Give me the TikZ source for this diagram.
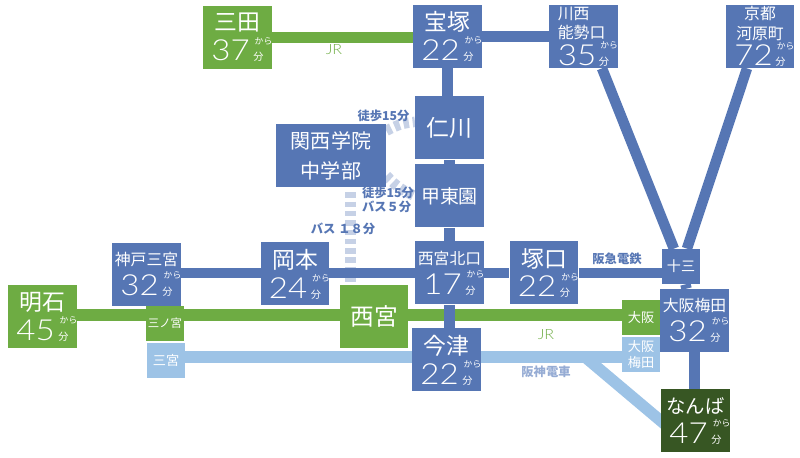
\documentclass[tikz,border=0pt]{standalone}
\usepackage{fontspec}
\usetikzlibrary{backgrounds}
\newfontfamily\jpfont{Noto Sans CJK JP}
\newfontfamily\numfont{Lato}[UprightFont=* Light, FakeStretch=1.14]
\setmainfont{Noto Sans CJK JP}
\definecolor{hkblue}{RGB}{86,118,180}
\definecolor{jrgreen}{RGB}{110,172,67}
\definecolor{hslight}{RGB}{157,195,230}
\definecolor{nmdark}{RGB}{55,86,35}
\definecolor{walkdash}{RGB}{198,209,230}
\definecolor{hslabel}{RGB}{150,172,212}

% Station box text: size of name, name, minutes
\newcommand{\stn}[3]{{\fontsize{#1}{#1}\selectfont #2}\\{\numfont\fontsize{16.5}{17}\selectfont #3}\,\rlap{\hspace{0.8pt}\raisebox{9.5pt}{\fontsize{5}{5}\selectfont から}}{\fontsize{5.8}{6}\selectfont 分}}

\tikzset{
    stationbox/.style={fill=hkblue, text=white, inner sep=0pt, minimum width=1.37cm, minimum height=1.26cm, align=center, font=\fontsize{12}{17}\selectfont},
    jrbox/.style={stationbox, fill=jrgreen},
    smallbox/.style={stationbox, minimum width=0.76cm, minimum height=0.70cm, font=\fontsize{6.5}{9}\selectfont},
    hkline/.style={draw=hkblue, line width=0.21cm},
    jrline/.style={draw=jrgreen, line width=0.23cm},
    hsline/.style={draw=hslight, line width=0.23cm},
    walkline/.style={draw=walkdash, line width=0.21cm, dash pattern=on 0.11cm off 0.076cm},
    linelabel/.style={inner sep=0pt, font=\bfseries\fontsize{7}{8}\selectfont, text=hkblue, align=center},
    jrlabel/.style={inner sep=0pt, text=jrgreen, font=\numfont\fontsize{8}{9}\selectfont},
}

\begin{document}
\begin{tikzpicture}
    \useasboundingbox (0,0) rectangle (16,9.16);

    % Top row
    \node[jrbox] (sanda) at (4.75,8.41) {\stn{13}{三田}{37}};
    \node[stationbox] (takarazuka) at (8.95,8.43) {\stn{13}{宝塚}{22}};
    \node[stationbox, align=left, font=\fontsize{9}{14}\selectfont] (kawanishi) at (11.67,8.43) {川西\\[-3pt]\stn{9}{能勢口}{35}};
    \node[stationbox, font=\fontsize{9}{14}\selectfont] (kawaramachi) at (15.20,8.43) {京都\\[-3pt]\stn{9}{河原町}{72}};

    % Imazu line stations
    \node[stationbox, font=\fontsize{13}{17}\selectfont] (nigawa) at (8.99,6.60) {仁川};
    \node[stationbox, minimum width=2.2cm, font=\fontsize{11.4}{17}\selectfont] (kgakuin) at (6.62,6.05) {関西学院\\中学部};
    \node[stationbox, font=\fontsize{10.8}{17}\selectfont] (kotoen) at (8.99,5.24) {甲東園};

    % Kobe line row
    \node[stationbox] (kobe) at (2.93,3.67) {\stn{9}{神戸三宮}{32}};
    \node[stationbox] (okamoto) at (5.90,3.68) {\stn{13}{岡本}{24}};
    \node[stationbox] (kitaguchi) at (8.99,3.70) {\stn{9}{西宮北口}{17}};
    \node[stationbox] (tsukaguchi) at (10.88,3.70) {\stn{13}{塚口}{22}};
    \node[smallbox, font=\fontsize{8}{9}\selectfont] (juso) at (13.62,3.83) {十三};

    % JR row
    \node[jrbox] (akashi) at (0.85,2.83) {\stn{13}{明石}{45}};
    \node[smallbox, fill=jrgreen] (sannomiyajr) at (3.30,2.69) {三ノ宮};
    \node[jrbox, font=\fontsize{13.5}{17}\selectfont] (nishinomiya) at (7.48,2.83) {西宮};
    \node[smallbox, fill=jrgreen, font=\fontsize{7.5}{9}\selectfont] (osakajr) at (12.82,2.81) {大阪};
    \node[stationbox] (umeda) at (13.89,2.75) {\stn{9}{大阪梅田}{32}};

    % Hanshin row
    \node[smallbox, fill=hslight, font=\fontsize{7.5}{9}\selectfont] (sannomiya) at (3.32,1.95) {三宮};
    \node[stationbox] (imazu) at (8.93,1.96) {\stn{13}{今津}{22}};
    \node[smallbox, fill=hslight, font=\fontsize{7.5}{9.5}\selectfont] (umedahs) at (12.82,2.07) {大阪\\梅田};
    \node[stationbox, fill=nmdark] (namba) at (13.91,0.74) {\stn{11}{なんば}{47}};

    % Row heights of the long lines
    \coordinate (jrrow) at (0,2.86);
    \coordinate (hsrow) at (0,2.02);
    \coordinate (busrow) at (7.01,0);
    \coordinate (hsfork) at (11.70,2.02);

    % Connectors
    \begin{scope}[on background layer]
        \draw[walkline] (busrow |- kgakuin.south) ++(0,-0.10) -- (busrow |- nishinomiya.north);
        \draw[walkline] (kgakuin.24) to[bend left=12] (nigawa.170);
        \draw[walkline] (kgakuin.-20) to[bend right=12] (kotoen.west);

        \draw[hsline] (sannomiya |- hsrow) -- (umedahs |- hsrow);
        \draw[hsline, shorten >=-3pt] (hsfork) -- (namba.west);

        \draw[jrline] (akashi |- jrrow) -- (osakajr |- jrrow);
        \draw[jrline] (sanda) -- (sanda -| takarazuka);

        \draw[hkline] (takarazuka) -- (kawanishi);
        \draw[hkline] (takarazuka) -- (takarazuka |- nigawa);
        \draw[hkline] (nigawa) -- (kotoen);
        \draw[hkline] (kotoen) -- (kitaguchi);
        \draw[hkline] (kitaguchi) -- (kitaguchi |- imazu);
        \draw[hkline] (kobe |- kitaguchi) -- (kitaguchi);
        \draw[hkline] (kitaguchi) -- (tsukaguchi);
        \draw[hkline] (tsukaguchi) -- (tsukaguchi -| juso);
        \draw[hkline] ([xshift=0.37cm]kawanishi.south) -- (juso);
        \draw[hkline] ([xshift=-0.26cm]kawaramachi.south) -- (juso);
        \draw[hkline] (juso) -- (umeda);
        \draw[hkline] (umeda) -- (umeda |- namba);
    \end{scope}

    % Line labels
    \node[linelabel] (walka) at (7.67,6.85) {徒歩15分};
    \node[linelabel, align=left] (walkb) at (7.76,5.16) {徒歩15分\\バス５分};
    \node[linelabel] (bus) at (6.86,4.59) {バス １８分};
    \node[linelabel] (hankyu) at (12.34,3.99) {阪急電鉄};
    \node[linelabel, text=hslabel] (hanshin) at (10.92,1.72) {阪神電車};
    \node[jrlabel] (jra) at (6.68,8.16) {JR};
    \node[jrlabel] (jrb) at (10.92,2.46) {JR};
\end{tikzpicture}
\end{document}
